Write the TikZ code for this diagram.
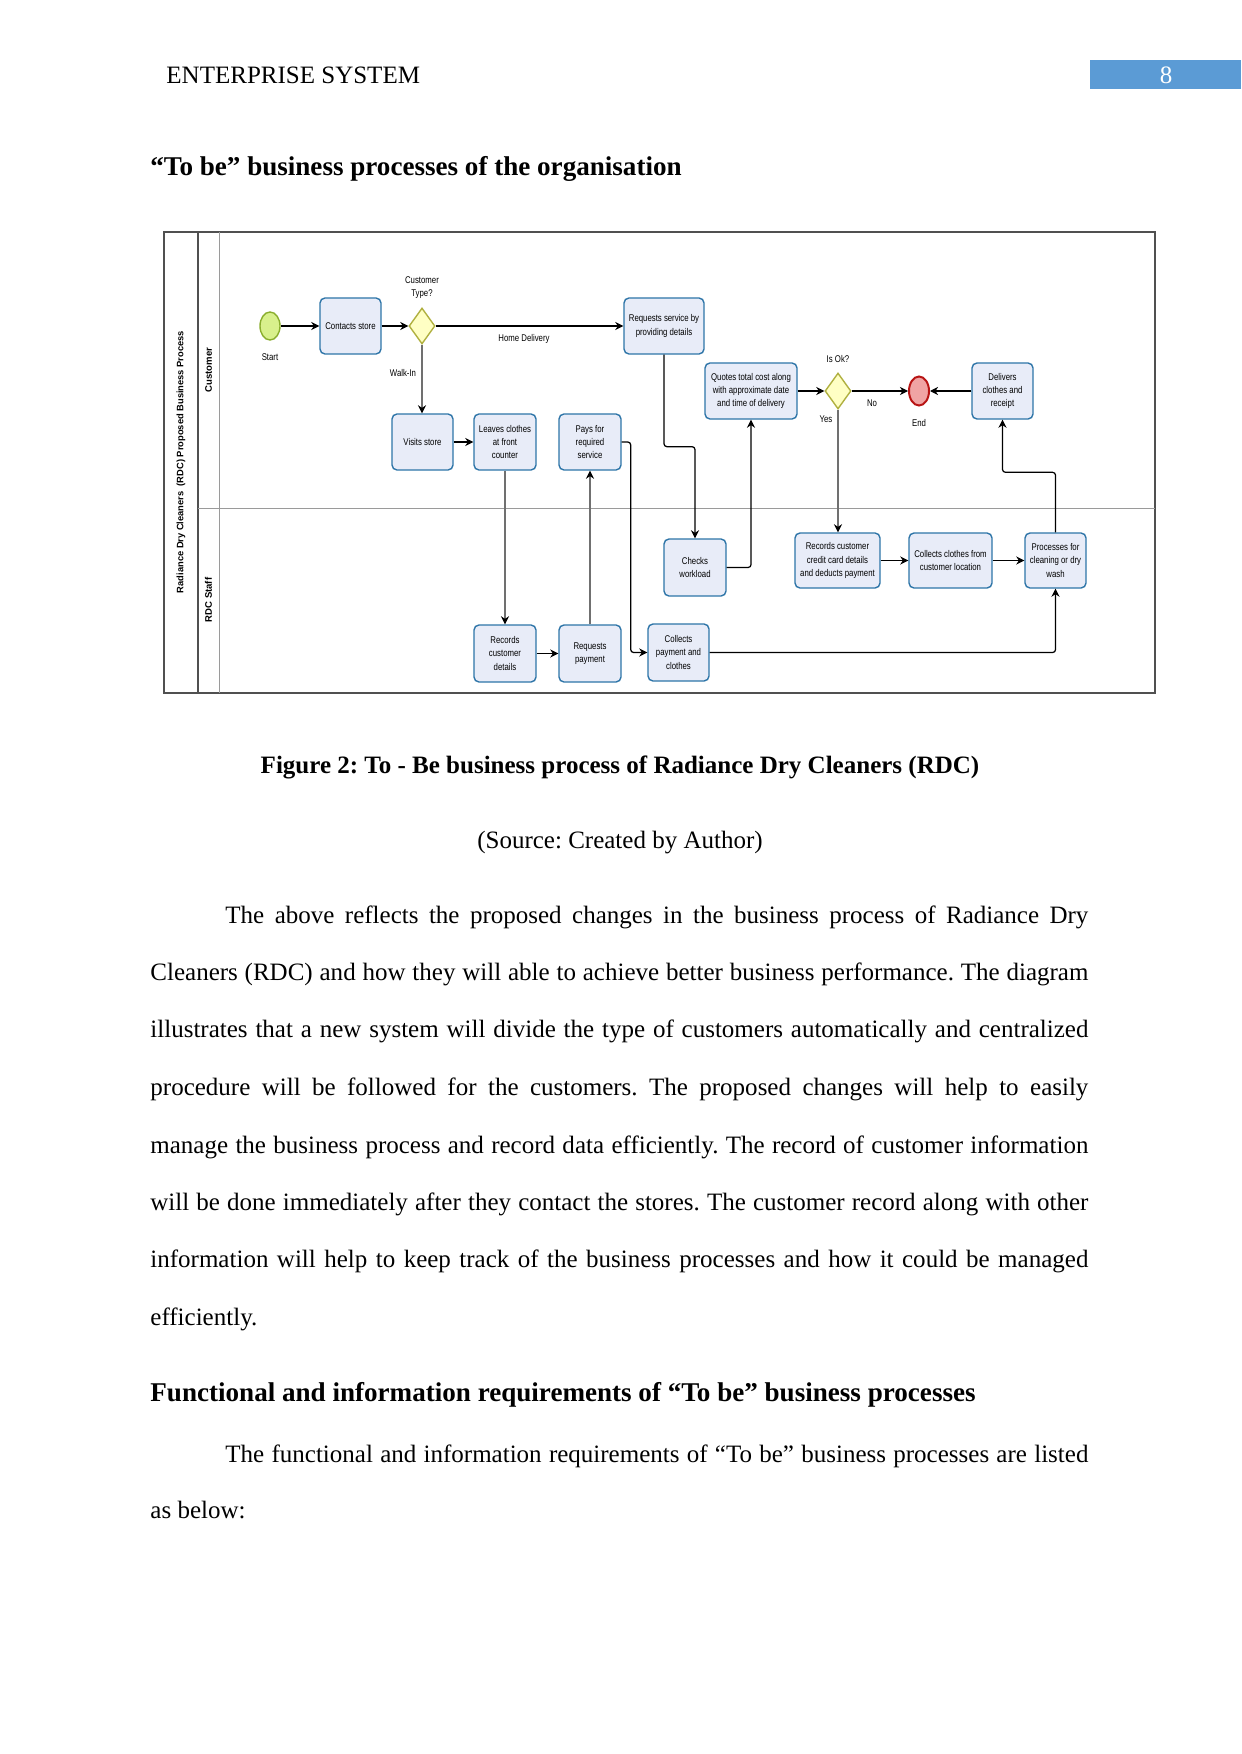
\documentclass[tikz,border=0pt]{standalone}
\usepackage{fontspec}
\setmainfont{Liberation Serif}
\newfontfamily\dfont{Liberation Sans}[FakeStretch=0.8]
\newfontfamily\lfont{Liberation Sans}
\usetikzlibrary{shapes.geometric,arrows.meta}
\newlength\px \setlength\px{0.4818pt}
\definecolor{boxfill}{HTML}{E8ECF8}
\definecolor{boxline}{HTML}{2E75A8}
\definecolor{gwfill}{HTML}{FFFFC4}
\definecolor{gwline}{HTML}{B0B040}
\definecolor{stfill}{HTML}{D8F08C}
\definecolor{stline}{HTML}{8AAE2E}
\definecolor{endfill}{HTML}{F0A4A4}
\definecolor{endline}{HTML}{B81414}
\definecolor{hdrblue}{HTML}{5B9BD5}
\definecolor{flowgray}{HTML}{707070}
\definecolor{lanegray}{HTML}{9A9A9A}
\definecolor{pooldark}{HTML}{505050}
\begin{document}
\frenchspacing
\begin{tikzpicture}[x=\px,y=-\px,
  task/.style 2 args={draw=boxline, fill=boxfill, line width=0.67pt, rounded corners=2.4pt,
    align=center, inner sep=0pt, minimum width=#1\px, minimum height=#2\px,
    font={\fontsize{4.7}{6.3}\dfont}},
  gateway/.style={diamond, draw=gwline, fill=gwfill, line width=0.67pt, inner sep=0pt,
    minimum width=26\px, minimum height=36\px},
  startev/.style={ellipse, draw=stline, fill=stfill, line width=0.67pt, inner sep=0pt,
    minimum width=20\px, minimum height=28\px},
  endevent/.style={ellipse, draw=endline, fill=endfill, line width=0.95pt, inner sep=0pt,
    minimum width=20\px, minimum height=29\px},
  lbl/.style={inner sep=0pt, align=center, font={\fontsize{4.7}{6.3}\dfont}},
  lanelbl/.style={rotate=90, inner sep=0pt, font={\fontsize{4.6}{5}\lfont\bfseries}},
  flow/.style={draw=black, line width=0.6pt, rounded corners=1.4pt, -{Stealth[length=3.9pt,width=3.9pt]}},
  gflow/.style={draw=flowgray, line width=0.55pt, -{Stealth[length=3.9pt,width=3.9pt,color=black]}},
  body/.style={anchor=base west, inner sep=0pt, font={\fontsize{12.05}{14}\selectfont}},
  bodyb/.style={body, font={\fontsize{12.05}{14}\selectfont\bfseries}},
  headb/.style={body, font={\fontsize{13.05}{15}\selectfont\bfseries}}
]
\useasboundingbox (0,0) rectangle (1241,1754);
\fill[white] (0,0) rectangle (1241,1754);

% ---------- header ----------
\node[body] (hdr) at (166,84) {ENTERPRISE SYSTEM};
\fill[hdrblue] (1090,60) rectangle (1241,89);
\node[body, anchor=base, text=white] (pgno) at (1166,84) {8};
\node[headb] (h1) at (150,176) {“To be” business processes of the organisation};

% ---------- pool and lanes ----------
\draw[pooldark, line width=0.58pt] (164,232) rectangle (1155,693);
\draw[pooldark, line width=0.58pt] (198,232) -- (198,693);
\draw[lanegray, line width=0.48pt] (219,232) -- (219,693);
\draw[lanegray, line width=0.48pt] (198,508) -- (1155,508);
\node[lanelbl, font={\fontsize{4.5}{5}\lfont\bfseries}] (pool) at (181,462) {Radiance Dry Cleaners\ \ (RDC) Proposed Business Process};
\node[lanelbl] (lanecust) at (208.5,370) {Customer};
\node[lanelbl] (lanestaff) at (208.5,600) {RDC Staff};

% ---------- events and gateways ----------
\node[startev] (start) at (270,326) {};
\node[lbl] (startlbl) at (270,357) {Start};
\node[gateway] (gw1) at (422,326) {};
\node[lbl] (gw1lbl) at (422,288) {Customer\\Type?};
\node[gateway] (gw2) at (838,391) {};
\node[lbl] (gw2lbl) at (838,359) {Is Ok?};
\node[endevent] (endev) at (919,391) {};
\node[lbl] (endlbl) at (919,423) {End};

% ---------- tasks ----------
\node[task={61}{56}] (contacts) at (350.5,326) {Contacts store};
\node[task={61}{56}] (visits) at (422.5,442) {Visits store};
\node[task={62}{56}] (leaves) at (505,442) {Leaves clothes\\at front\\counter};
\node[task={62}{56}] (pays) at (590,442) {Pays for\\required\\service};
\node[task={80}{56}] (reqsvc) at (664,326) {Requests service by\\providing details};
\node[task={92}{56}] (quotes) at (751,391) {Quotes total cost along\\with approximate date\\and time of delivery};
\node[task={61}{56}] (delivers) at (1002.5,391) {Delivers\\clothes and\\receipt};
\node[task={62}{57}] (checks) at (695,567.5) {Checks\\workload};
\node[task={85}{55}] (reccc) at (837.5,560.5) {Records customer\\credit card details\\and deducts payment};
\node[task={83}{55}] (collcl) at (950.5,560.5) {Collects clothes from\\customer location};
\node[task={61}{55}] (proc) at (1055.5,560.5) {Processes for\\cleaning or dry\\wash};
\node[task={62}{57}] (recdet) at (505,653.5) {Records\\customer\\details};
\node[task={62}{57}] (reqpay) at (590,653.5) {Requests\\payment};
\node[task={61}{57}] (collpay) at (678.5,652.5) {Collects\\payment and\\clothes};

% ---------- connectors ----------
\draw[flow] (start) -- (contacts);
\draw[flow] (contacts) -- (gw1);
\draw[flow] (gw1) -- (reqsvc);
\node[lbl] (hdlbl) at (524,339) {Home Delivery};
\draw[gflow] (gw1.south) -- (gw1.south |- visits.north);
\node[lbl] (walklbl) at (403,373) {Walk-In};
\draw[flow] (visits) -- (leaves);
\draw[gflow] (leaves.south) -- (leaves.south |- recdet.north);
\draw[flow] (recdet) -- (reqpay);
\draw[gflow] (reqpay.north) -- (reqpay.north |- pays.south);
\draw[flow] (pays.east) -- ++(9,0) |- (collpay.west);
\draw[flow] (reqsvc.south) -- ++(0,92) -| (checks.north);
\draw[flow] (checks.east) -| (quotes.south);
\draw[flow] (quotes) -- (gw2);
\draw[flow] (gw2) -- (endev);
\node[lbl] (nolbl) at (872,403) {No};
\draw[gflow] (gw2.south) -- (gw2.south |- reccc.north);
\node[lbl] (yeslbl) at (826,419) {Yes};
\draw[flow] (reccc) -- (collcl);
\draw[flow] (collcl) -- (proc);
\draw[flow] (collpay.east) -| (proc.south);
\draw[flow] (proc.north) -- ++(0,-60) -| (delivers.south);
\draw[flow] (delivers) -- (endev);

% ---------- caption ----------
\node[bodyb, anchor=base] (cap) at (620,773) {Figure 2: To - Be business process of Radiance Dry Cleaners (RDC)};
\node[body, anchor=base] (src) at (620,848) {(Source: Created by Author)};

% ---------- paragraph 1 ----------
\node[body] (p1) at (225,923) {\makebox[863\px][s]{The above reflects the proposed changes in the business process of Radiance Dry}};
\node[body] (p2) at (150,980) {\makebox[938\px][s]{Cleaners (RDC) and how they will able to achieve better business performance. The diagram}};
\node[body] (p3) at (150,1037) {\makebox[938\px][s]{illustrates that a new system will divide the type of customers automatically and centralized}};
\node[body] (p4) at (150,1095) {\makebox[938\px][s]{procedure will be followed for the customers. The proposed changes will help to easily}};
\node[body] (p5) at (150,1153) {\makebox[938\px][s]{manage the business process and record data efficiently. The record of customer information}};
\node[body] (p6) at (150,1210) {\makebox[938\px][s]{will be done immediately after they contact the stores. The customer record along with other}};
\node[body] (p7) at (150,1267) {\makebox[938\px][s]{information will help to keep track of the business processes and how it could be managed}};
\node[body] (p8) at (150,1325) {efficiently.};

% ---------- heading 2 and paragraph 2 ----------
\node[headb] (h2) at (150,1401) {Functional and information requirements of “To be” business processes};
\node[body] (q1) at (225,1462) {\makebox[863\px][s]{The functional and information requirements of “To be” business processes are listed}};
\node[body] (q2) at (150,1518) {as below:};
\end{tikzpicture}
\end{document}
